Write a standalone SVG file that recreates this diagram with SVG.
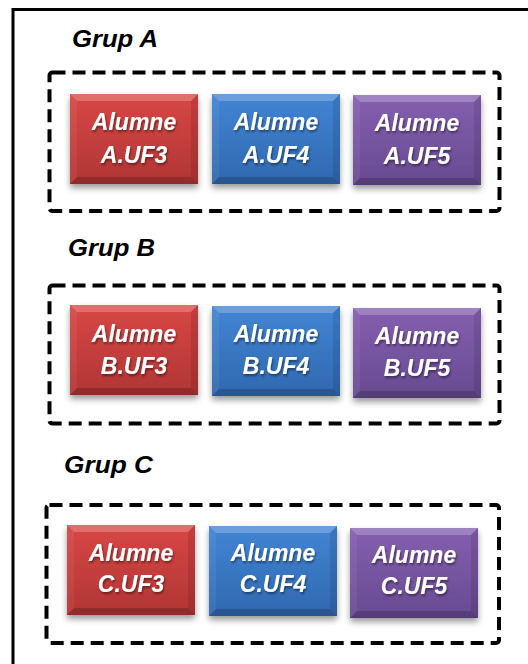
<svg xmlns="http://www.w3.org/2000/svg" width="528" height="664" viewBox="0 0 528 664">
  <defs>
    <linearGradient id="gRed" x1="0" y1="0" x2="0" y2="1">
      <stop offset="0" stop-color="#d84745"/>
      <stop offset="1" stop-color="#b13534"/>
    </linearGradient>
    <linearGradient id="gBlue" x1="0" y1="0" x2="0" y2="1">
      <stop offset="0" stop-color="#4285d4"/>
      <stop offset="1" stop-color="#3068b0"/>
    </linearGradient>
    <linearGradient id="gPurple" x1="0" y1="0" x2="0" y2="1">
      <stop offset="0" stop-color="#855fb0"/>
      <stop offset="1" stop-color="#674a91"/>
    </linearGradient>
    <filter id="shadow" x="-20%" y="-20%" width="140%" height="150%">
      <feGaussianBlur in="SourceAlpha" stdDeviation="3"/>
      <feOffset dx="0" dy="4" result="b"/>
      <feComponentTransfer><feFuncA type="linear" slope="0.4"/></feComponentTransfer>
      <feMerge><feMergeNode/><feMergeNode in="SourceGraphic"/></feMerge>
    </filter>
    <filter id="tshadow" x="-10%" y="-20%" width="120%" height="150%">
      <feGaussianBlur in="SourceAlpha" stdDeviation="0.8"/>
      <feOffset dx="1" dy="1.5"/>
      <feComponentTransfer><feFuncA type="linear" slope="0.45"/></feComponentTransfer>
      <feMerge><feMergeNode/><feMergeNode in="SourceGraphic"/></feMerge>
    </filter>
    <!-- bevel overlay for a 128x90 tile -->
    <g id="bevel">
      <polygon points="0,0 128,0 121,7 7,7" fill="#ffffff" opacity="0.22"/>
      <polygon points="0,90 128,90 121,83 7,83" fill="#000000" opacity="0.18"/>
      <polygon points="0,0 7,7 7,83 0,90" fill="#ffffff" opacity="0.06"/>
      <polygon points="128,0 121,7 121,83 128,90" fill="#000000" opacity="0.1"/>
    </g>
  </defs>
  <style>
    .frame { fill: none; stroke: #000; stroke-width: 3; }
    .grp { fill: none; stroke: #000; stroke-width: 4; stroke-dasharray: 13 7; }
    .title { font-family: "Liberation Sans", Arial, sans-serif; font-weight: bold; font-style: italic; font-size: 24px; fill: #000; }
    .lbl { font-family: "Liberation Sans", Arial, sans-serif; font-weight: bold; font-style: italic; font-size: 23px; fill: #fff; text-anchor: middle; }
  </style>

  <rect width="528" height="664" fill="#fff"/>
  <rect class="frame" x="13" y="9.5" width="540" height="680"/>

  <!-- Grup A -->
  <g id="grupA">
    <text class="title" x="72" y="47" textLength="86" lengthAdjust="spacingAndGlyphs">Grup A</text>
    <rect class="grp" x="49.5" y="72.5" width="450" height="138.5" rx="3"/>
  </g>
  <g id="a-uf3" transform="translate(70,94)">
    <rect width="128" height="90" fill="url(#gRed)" filter="url(#shadow)"/>
    <use href="#bevel"/>
    <g filter="url(#tshadow)"><text class="lbl" x="64" y="36">Alumne</text><text class="lbl" x="64" y="69">A.UF3</text></g>
  </g>
  <g id="a-uf4" transform="translate(212,94)">
    <rect width="128" height="90" fill="url(#gBlue)" filter="url(#shadow)"/>
    <use href="#bevel"/>
    <g filter="url(#tshadow)"><text class="lbl" x="64" y="36">Alumne</text><text class="lbl" x="64" y="69">A.UF4</text></g>
  </g>
  <g id="a-uf5" transform="translate(353,95)">
    <rect width="128" height="90" fill="url(#gPurple)" filter="url(#shadow)"/>
    <use href="#bevel"/>
    <g filter="url(#tshadow)"><text class="lbl" x="64" y="36">Alumne</text><text class="lbl" x="64" y="69">A.UF5</text></g>
  </g>

  <!-- Grup B -->
  <g id="grupB">
    <text class="title" x="68" y="256" textLength="87" lengthAdjust="spacingAndGlyphs">Grup B</text>
    <rect class="grp" x="49.5" y="285.5" width="450" height="138" rx="3"/>
  </g>
  <g id="b-uf3" transform="translate(70,305)">
    <rect width="128" height="90" fill="url(#gRed)" filter="url(#shadow)"/>
    <use href="#bevel"/>
    <g filter="url(#tshadow)"><text class="lbl" x="64" y="37">Alumne</text><text class="lbl" x="64" y="69">B.UF3</text></g>
  </g>
  <g id="b-uf4" transform="translate(212,306)">
    <rect width="128" height="90" fill="url(#gBlue)" filter="url(#shadow)"/>
    <use href="#bevel"/>
    <g filter="url(#tshadow)"><text class="lbl" x="64" y="36">Alumne</text><text class="lbl" x="64" y="68">B.UF4</text></g>
  </g>
  <g id="b-uf5" transform="translate(353,308)">
    <rect width="128" height="90" fill="url(#gPurple)" filter="url(#shadow)"/>
    <use href="#bevel"/>
    <g filter="url(#tshadow)"><text class="lbl" x="64" y="36">Alumne</text><text class="lbl" x="64" y="68">B.UF5</text></g>
  </g>

  <!-- Grup C -->
  <g id="grupC">
    <text class="title" x="64" y="473" textLength="89" lengthAdjust="spacingAndGlyphs">Grup C</text>
    <rect class="grp" x="46.5" y="505" width="452.5" height="138" rx="3"/>
  </g>
  <g id="c-uf3" transform="translate(67,525)">
    <rect width="128" height="90" fill="url(#gRed)" filter="url(#shadow)"/>
    <use href="#bevel"/>
    <g filter="url(#tshadow)"><text class="lbl" x="64" y="36">Alumne</text><text class="lbl" x="64" y="67">C.UF3</text></g>
  </g>
  <g id="c-uf4" transform="translate(209,526)">
    <rect width="128" height="90" fill="url(#gBlue)" filter="url(#shadow)"/>
    <use href="#bevel"/>
    <g filter="url(#tshadow)"><text class="lbl" x="64" y="35">Alumne</text><text class="lbl" x="64" y="66">C.UF4</text></g>
  </g>
  <g id="c-uf5" transform="translate(350,528)">
    <rect width="128" height="90" fill="url(#gPurple)" filter="url(#shadow)"/>
    <use href="#bevel"/>
    <g filter="url(#tshadow)"><text class="lbl" x="64" y="35">Alumne</text><text class="lbl" x="64" y="66">C.UF5</text></g>
  </g>
</svg>
